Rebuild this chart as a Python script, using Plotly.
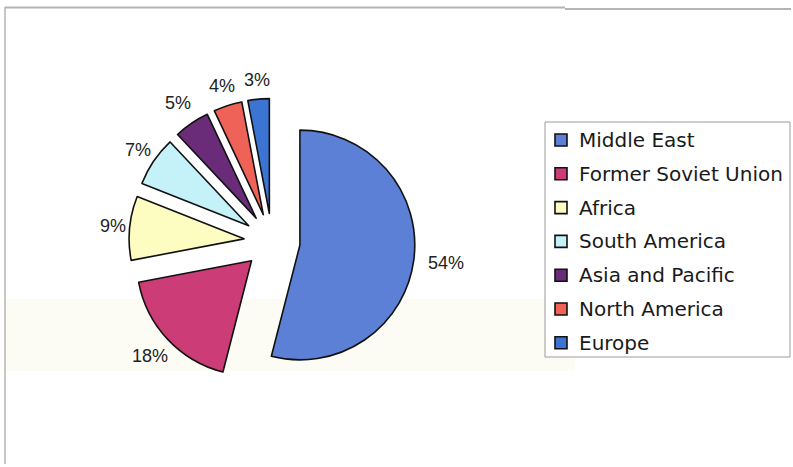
import math
import plotly.graph_objects as go

# Share of proved reserves by region (%)
regions = ["Middle East", "Former Soviet Union", "Africa", "South America",
           "Asia and Pacific", "North America", "Europe"]
shares = [54, 18, 9, 7, 5, 4, 3]
colors = ["#5B80D6", "#CC3C76", "#FDFDC2", "#C4F2F8", "#6A2C78", "#EE6258", "#3B74D2"]

W, H = 793, 467
PULL = 0.245

# pie placement in pixels
CX, CY = 272, 241.5          # centre of the un-exploded pie
HALF = 143                   # radius * (1 + pull)
# distance of each percentage label from the pie centre
label_dist = [175, 167, 160, 162, 168, 163, 162]


def px_x(x):
    return x / W


def px_y(y):
    return 1 - y / H


fig = go.Figure()

fig.add_trace(go.Pie(
    labels=regions,
    values=shares,
    sort=False,
    direction="clockwise",
    rotation=0,
    pull=[PULL] * len(shares),
    marker=dict(colors=colors, line=dict(color="#111111", width=1.6)),
    textinfo="none",
    showlegend=False,
    hoverinfo="label+percent",
    domain=dict(x=[px_x(CX - HALF), px_x(CX + HALF)],
                y=[px_y(CY + HALF), px_y(CY - HALF)]),
))

annotations = []

# percentage labels around the pie, placed at each slice's mid angle
total = sum(shares)
cum = 0.0
for v, dist in zip(shares, label_dist):
    mid = (cum + v / 2) / total * 2 * math.pi   # clockwise from 12 o'clock
    cum += v
    lx = CX + dist * math.sin(mid)
    ly = CY - dist * math.cos(mid)
    annotations.append(dict(xref="paper", yref="paper", x=px_x(lx), y=px_y(ly),
                            xanchor="center", yanchor="middle", showarrow=False,
                            text=f"{v}%",
                            font=dict(family="Liberation Sans, Arial", size=18,
                                      color="#222222")))

shapes = []
# faint tinted band behind lower half of the pie
shapes.append(dict(type="rect", xref="paper", yref="paper", layer="below",
                   x0=px_x(5), x1=px_x(575), y0=px_y(371), y1=px_y(299),
                   fillcolor="#FCFCF5", line=dict(width=0)))
# chart frame (top and left edges)
shapes.append(dict(type="line", xref="paper", yref="paper",
                   x0=px_x(5), x1=px_x(565), y0=px_y(7.5), y1=px_y(7.5),
                   line=dict(color="#B4B4B4", width=2)))
shapes.append(dict(type="line", xref="paper", yref="paper",
                   x0=px_x(565), x1=px_x(791), y0=px_y(9), y1=px_y(9),
                   line=dict(color="#B4B4B4", width=2)))
shapes.append(dict(type="line", xref="paper", yref="paper",
                   x0=px_x(5), x1=px_x(5), y0=px_y(7), y1=px_y(464),
                   line=dict(color="#B4B4B4", width=1.5)))

# legend box
shapes.append(dict(type="rect", xref="paper", yref="paper",
                   x0=px_x(545), x1=px_x(790), y0=px_y(357), y1=px_y(122),
                   fillcolor="white", line=dict(color="#9A9A9A", width=1)))

leg_top = 140
leg_step = 33.8
for i, (name, col) in enumerate(zip(regions, colors)):
    yc = leg_top + i * leg_step
    shapes.append(dict(type="rect", xref="paper", yref="paper",
                       x0=px_x(555), x1=px_x(567), y0=px_y(yc + 6), y1=px_y(yc - 6),
                       fillcolor=col, line=dict(color="#111111", width=1.6)))
    annotations.append(dict(xref="paper", yref="paper", x=px_x(577), y=px_y(yc),
                            xanchor="left", yanchor="middle", showarrow=False,
                            text=name,
                            font=dict(family="DejaVu Sans", size=20, color="#1A1A1A")))

fig.update_layout(
    width=W, height=H,
    margin=dict(l=0, r=0, t=0, b=0),
    paper_bgcolor="white",
    plot_bgcolor="white",
    shapes=shapes,
    annotations=annotations,
)

fig.write_html("out.html")
